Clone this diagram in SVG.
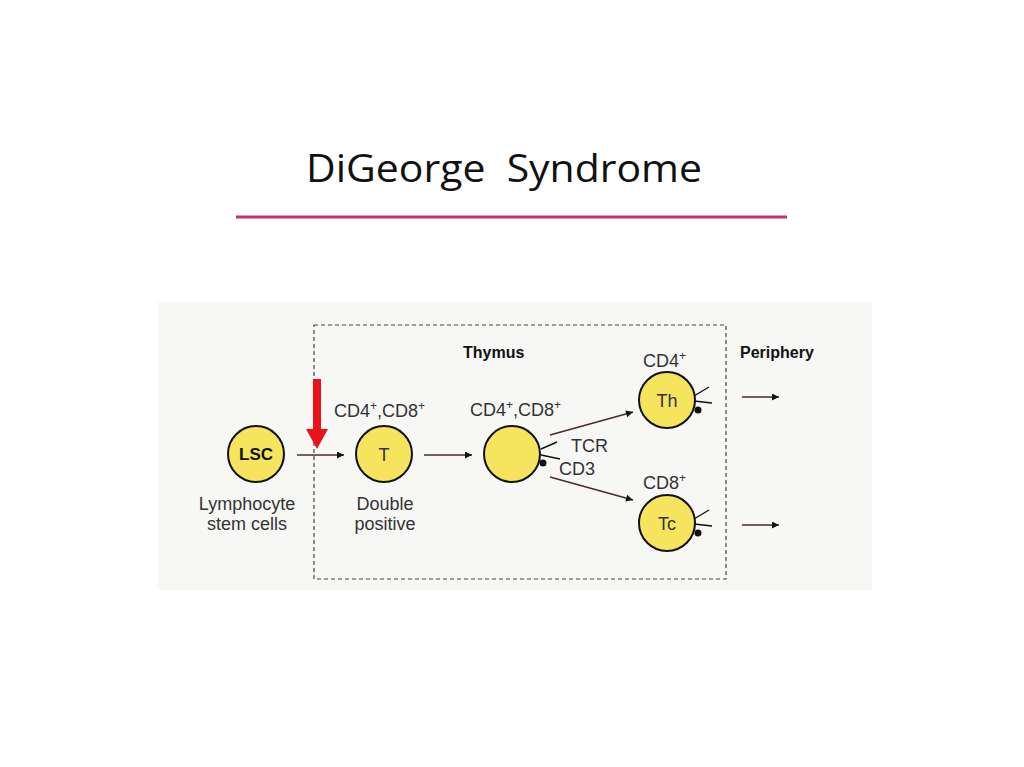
<svg xmlns="http://www.w3.org/2000/svg" width="1024" height="767" viewBox="0 0 1024 767">
<defs>
<marker id="ah" viewBox="0 0 10 10" refX="10" refY="5" markerWidth="11" markerHeight="7" markerUnits="userSpaceOnUse" orient="auto">
<path d="M0,0 L10,5 L0,10 z" fill="#111"/>
</marker>
<style>
.cell{fill:#f7e45e;stroke:#111;stroke-width:2}
.lbl{font-family:"Liberation Sans",Arial,sans-serif;font-size:18px;fill:#333}
.bold{font-family:"Liberation Sans",Arial,sans-serif;font-size:16px;font-weight:bold;fill:#111}
.con{stroke:#4a2a2e;stroke-width:1.6;fill:none;marker-end:url(#ah)}
.spike{stroke:#111;stroke-width:1.4;fill:none}
</style>
</defs>
<rect width="1024" height="767" fill="#ffffff"/>
<text x="504" y="182" text-anchor="middle" font-family="Open Sans, Liberation Sans, sans-serif" font-size="38" fill="#111" textLength="396" lengthAdjust="spacingAndGlyphs" xml:space="preserve">DiGeorge  Syndrome</text>
<line x1="236" y1="217" x2="787" y2="217" stroke="#c2336f" stroke-width="3"/>
<rect x="158" y="302" width="714" height="288" fill="#f7f7f5"/>
<rect id="thymus-box" x="314" y="325" width="412" height="254" fill="none" stroke="#444" stroke-width="1.2" stroke-dasharray="4,3"/>
<text class="bold" x="463" y="358">Thymus</text>
<text class="bold" x="740" y="358">Periphery</text>
<g id="connectors">
<line class="con" x1="297" y1="455" x2="344" y2="455"/>
<line class="con" x1="424" y1="455" x2="472" y2="455"/>
<line class="con" x1="550" y1="435" x2="633" y2="412"/>
<line class="con" x1="550" y1="477" x2="633" y2="500"/>
<line class="con" x1="742" y1="397" x2="779" y2="397"/>
<line class="con" x1="742" y1="525" x2="779" y2="525"/>
</g>
<g id="red-arrow">
<rect x="313" y="379" width="8" height="52" fill="#e8141a"/>
<path d="M306,429 L328,429 L317,449 z" fill="#e8141a"/>
</g>
<g id="lsc">
<circle class="cell" cx="256" cy="454" r="28"/>
<text x="256" y="460" text-anchor="middle" font-family="Liberation Sans, Arial, sans-serif" font-size="17" font-weight="bold" fill="#111">LSC</text>
<text class="lbl" x="247" y="510" text-anchor="middle">Lymphocyte</text>
<text class="lbl" x="247" y="530" text-anchor="middle">stem cells</text>
</g>
<g id="t-cell">
<circle class="cell" cx="384" cy="454" r="28"/>
<text class="lbl" x="384" y="461" text-anchor="middle">T</text>
<text class="lbl" x="334" y="417">CD4<tspan dy="-7" font-size="12">+</tspan><tspan dy="7">,CD8</tspan><tspan dy="-7" font-size="12">+</tspan></text>
<text class="lbl" x="385" y="510" text-anchor="middle">Double</text>
<text class="lbl" x="385" y="530" text-anchor="middle">positive</text>
</g>
<g id="dp-cell">
<circle class="cell" cx="512" cy="454" r="28"/>
<text class="lbl" x="470" y="416">CD4<tspan dy="-7" font-size="12">+</tspan><tspan dy="7">,CD8</tspan><tspan dy="-7" font-size="12">+</tspan></text>
<path class="spike" d="M541,449 L557,442 M541,455 L560,459"/>
<circle cx="543" cy="463" r="3.5" fill="#111"/>
<text class="lbl" x="571" y="452">TCR</text>
<text class="lbl" x="559" y="475">CD3</text>
</g>
<g id="th-cell">
<circle class="cell" cx="667" cy="400" r="28"/>
<text class="lbl" x="667" y="407" text-anchor="middle">Th</text>
<text class="lbl" x="643" y="367">CD4<tspan dy="-7" font-size="12">+</tspan></text>
<path class="spike" d="M694,396 L709,387 M694,401 L712,403"/>
<circle cx="698" cy="410" r="3.5" fill="#111"/>
</g>
<g id="tc-cell">
<circle class="cell" cx="667" cy="523" r="28"/>
<text class="lbl" x="667" y="530" text-anchor="middle">Tc</text>
<text class="lbl" x="643" y="489">CD8<tspan dy="-7" font-size="12">+</tspan></text>
<path class="spike" d="M694,519 L709,510 M694,524 L712,526"/>
<circle cx="698" cy="533" r="3.5" fill="#111"/>
</g>
</svg>
